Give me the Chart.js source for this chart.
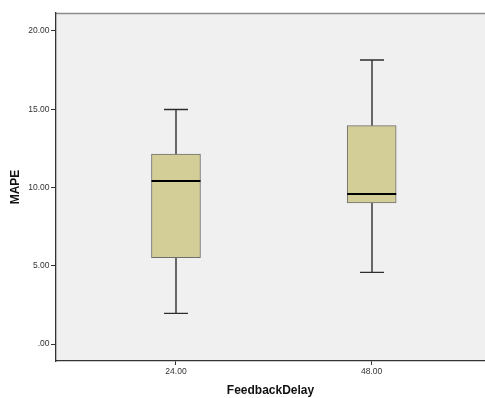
<!DOCTYPE html>
<html>
<head>
<meta charset="utf-8">
<script src="https://cdn.jsdelivr.net/npm/chart.js@4/dist/chart.umd.min.js"></script>
<style>
  html, body { margin: 0; padding: 0; background: #ffffff; }
  #wrap { width: 485px; height: 398px; }
</style>
</head>
<body>
<div id="wrap"><canvas id="c" width="485" height="398"></canvas></div>
<script>
// FeedbackDelay groups and the five-number summary of MAPE for each
const categories   = ['24.00', '48.00'];
const whiskerLow   = [1.96, 4.58];
const quartile1    = [5.51, 9.01];
const medians      = [10.42, 9.58];
const quartile3    = [12.14, 13.95];
const whiskerHigh  = [14.98, 18.15];
const yTickValues  = [0, 5, 10, 15, 20];

const fontFamily = '"Liberation Sans", Arial, sans-serif';

// Boxes are floating bars from Q1 to Q3, placed at category index 1, 2, ...
const boxData = categories.map((c, i) => ({ x: i + 1, y: [quartile1[i], quartile3[i]] }));

// Plot panel background and the light top frame line
const panelPlugin = {
  id: 'panel',
  beforeDraw(chart) {
    const { ctx, chartArea: a } = chart;
    ctx.save();
    ctx.fillStyle = '#f0f0f0';
    ctx.fillRect(a.left, a.top, a.right - a.left, a.bottom - a.top);
    ctx.strokeStyle = '#8c8c8c';
    ctx.lineWidth = 1.5;
    ctx.beginPath();
    ctx.moveTo(a.left, a.top + 0.5);
    ctx.lineTo(a.right, a.top + 0.5);
    ctx.stroke();
    ctx.restore();
  }
};

// Whiskers, caps and median lines, positioned through the chart scales
const boxExtras = {
  id: 'boxExtras',
  beforeDatasetsDraw(chart) {
    const { ctx, scales: { x, y } } = chart;
    ctx.save();
    categories.forEach((c, i) => {
      const cx = Math.round(x.getPixelForValue(i + 1));
      const capHalf = 12;
      const pHigh = y.getPixelForValue(whiskerHigh[i]);
      const pQ3 = y.getPixelForValue(quartile3[i]);
      const pQ1 = y.getPixelForValue(quartile1[i]);
      const pLow = y.getPixelForValue(whiskerLow[i]);
      ctx.strokeStyle = '#2e2e2e';
      ctx.lineWidth = 1.4;
      ctx.beginPath();
      ctx.moveTo(cx, pHigh); ctx.lineTo(cx, pQ3);
      ctx.moveTo(cx, pQ1); ctx.lineTo(cx, pLow);
      ctx.moveTo(cx - capHalf, pHigh); ctx.lineTo(cx + capHalf, pHigh);
      ctx.moveTo(cx - capHalf, pLow); ctx.lineTo(cx + capHalf, pLow);
      ctx.stroke();
    });
    ctx.restore();
  },
  afterDatasetsDraw(chart) {
    const { ctx, scales: { x, y } } = chart;
    ctx.save();
    categories.forEach((c, i) => {
      const cx = x.getPixelForValue(i + 1);
      const half = 24.5;
      const pMed = y.getPixelForValue(medians[i]);
      ctx.strokeStyle = '#000000';
      ctx.lineWidth = 2;
      ctx.beginPath();
      ctx.moveTo(cx - half, pMed); ctx.lineTo(cx + half, pMed);
      ctx.stroke();
    });
    ctx.restore();
  }
};

new Chart(document.getElementById('c'), {
  type: 'bar',
  data: {
    datasets: [{
      data: boxData,
      backgroundColor: '#d3ce98',
      borderColor: '#6e6e6e',
      borderWidth: 1,
      borderSkipped: false,
      barThickness: 49
    }]
  },
  options: {
    responsive: false,
    animation: false,
    events: [],
    layout: { padding: { top: 13, right: 0, left: 0, bottom: 0 } },
    plugins: { legend: { display: false }, tooltip: { enabled: false } },
    scales: {
      x: {
        type: 'linear',
        min: 0.387,
        max: 2.579,
        offset: false,
        afterBuildTicks(scale) { scale.ticks = categories.map((c, i) => ({ value: i + 1 })); },
        afterFit(scale) { scale.height = 37; },
        ticks: {
          callback: (v) => categories[v - 1],
          font: { family: fontFamily, size: 8.5 },
          color: '#333333',
          padding: 2,
          maxRotation: 0
        },
        grid: { offset: false, drawOnChartArea: false, drawTicks: true, tickLength: 4, color: '#333333', tickWidth: 1 },
        border: { display: true, color: '#333333', width: 1.3 },
        title: {
          display: true,
          text: 'FeedbackDelay',
          font: { family: fontFamily, size: 12, weight: 'bold' },
          color: '#111111',
          padding: { top: 0, bottom: 0 }
        }
      },
      y: {
        type: 'linear',
        min: -1.086,
        max: 21.15,
        afterBuildTicks(scale) { scale.ticks = yTickValues.map(v => ({ value: v })); },
        afterFit(scale) { scale.width = 56; },
        ticks: {
          callback: (v) => (v === 0 ? '.00' : v.toFixed(2)),
          font: { family: fontFamily, size: 8.5 },
          color: '#333333',
          padding: 1.5
        },
        grid: { drawOnChartArea: false, drawTicks: true, tickLength: 5, color: '#333333', tickWidth: 1 },
        border: { display: true, color: '#333333', width: 1.3 },
        title: {
          display: true,
          text: 'MAPE',
          font: { family: fontFamily, size: 12, weight: 'bold' },
          color: '#111111',
          padding: { top: 8, bottom: 0 }
        }
      }
    }
  },
  plugins: [panelPlugin, boxExtras]
});
</script>
</body>
</html>
